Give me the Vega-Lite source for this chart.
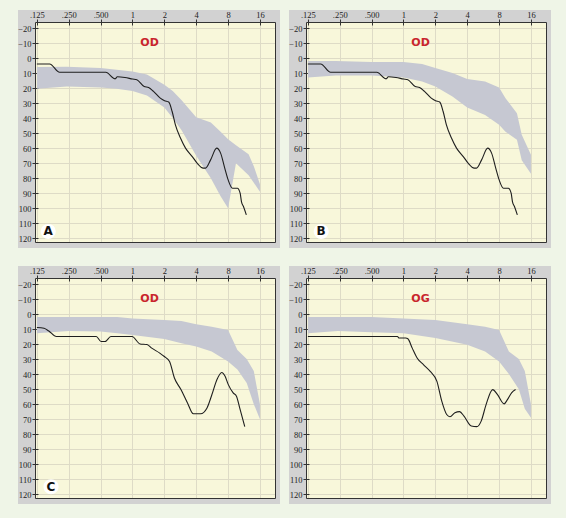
{
"$schema":"https://vega.github.io/schema/vega-lite/v6.json",
"background":"#eff5e7",
"padding":{"left":17,"top":9,"right":17,"bottom":17},
"columns":2,
"spacing":{"row":16,"column":8},
"config":{
 "view":{"fill":"#f8f7da","stroke":null},
 "axis":{"labelFont":"Liberation Sans Narrow, Liberation Serif, DejaVu Sans Condensed","labelFontSize":8.5,"labelColor":"#222222","title":null,"gridColor":"#dedbc6","gridOpacity":1,"gridWidth":1,"domainColor":"#333333","domainWidth":1,"tickColor":"#333333","labelOverlap":false,"labelFlush":false}
},
"datasets":{
 "band":[
  {"panel":"A","freq":0.125,"lo":6,"hi":20.5},{"panel":"A","freq":0.24,"lo":5.8,"hi":19},{"panel":"A","freq":0.5,"lo":6.7,"hi":19.6},{"panel":"A","freq":0.71,"lo":7.8,"hi":20.4},{"panel":"A","freq":1.0,"lo":9,"hi":22},{"panel":"A","freq":1.37,"lo":11,"hi":25},{"panel":"A","freq":2.0,"lo":17.8,"hi":33},{"panel":"A","freq":2.4,"lo":22,"hi":40},{"panel":"A","freq":2.9,"lo":28,"hi":48},{"panel":"A","freq":4.0,"lo":39.5,"hi":65},{"panel":"A","freq":5.5,"lo":43,"hi":80},{"panel":"A","freq":6.8,"lo":49,"hi":92},{"panel":"A","freq":8.0,"lo":54,"hi":100},{"panel":"A","freq":9.5,"lo":58,"hi":70},{"panel":"A","freq":12.5,"lo":64,"hi":78},{"panel":"A","freq":14,"lo":72,"hi":83},{"panel":"A","freq":16,"lo":84,"hi":89},
  {"panel":"B","freq":0.125,"lo":2,"hi":13},{"panel":"B","freq":0.23,"lo":2,"hi":11.6},{"panel":"B","freq":0.5,"lo":2.7,"hi":11.6},{"panel":"B","freq":1.0,"lo":2.7,"hi":13},{"panel":"B","freq":1.5,"lo":4,"hi":15.6},{"panel":"B","freq":2.0,"lo":6.7,"hi":19},{"panel":"B","freq":2.9,"lo":10,"hi":25.6},{"panel":"B","freq":4.0,"lo":14,"hi":33},{"panel":"B","freq":5.9,"lo":15.6,"hi":38},{"panel":"B","freq":8.0,"lo":19.6,"hi":44.4},{"panel":"B","freq":9.2,"lo":26.7,"hi":49},{"panel":"B","freq":11.8,"lo":36.7,"hi":54.4},{"panel":"B","freq":13.1,"lo":51,"hi":68},{"panel":"B","freq":16,"lo":64.4,"hi":77},
  {"panel":"C","freq":0.125,"lo":2,"hi":12.8},{"panel":"C","freq":0.25,"lo":2,"hi":11.3},{"panel":"C","freq":0.5,"lo":2,"hi":11.7},{"panel":"C","freq":0.72,"lo":2,"hi":12.8},{"panel":"C","freq":1.0,"lo":3,"hi":14},{"panel":"C","freq":2.0,"lo":4,"hi":16.6},{"panel":"C","freq":2.9,"lo":4.6,"hi":19.4},{"panel":"C","freq":4.0,"lo":6.8,"hi":21.6},{"panel":"C","freq":5.6,"lo":8.4,"hi":25},{"panel":"C","freq":8.0,"lo":10.6,"hi":31.6},{"panel":"C","freq":9.8,"lo":24,"hi":37},{"panel":"C","freq":12,"lo":30,"hi":46},{"panel":"C","freq":14,"lo":38,"hi":60},{"panel":"C","freq":16,"lo":60,"hi":70},
  {"panel":"D","freq":0.125,"lo":2,"hi":12.8},{"panel":"D","freq":0.24,"lo":2,"hi":11.3},{"panel":"D","freq":0.5,"lo":2,"hi":12.1},{"panel":"D","freq":1.0,"lo":3,"hi":12.8},{"panel":"D","freq":2.0,"lo":4,"hi":16},{"panel":"D","freq":4.0,"lo":6.8,"hi":20.5},{"panel":"D","freq":5.9,"lo":8.4,"hi":25},{"panel":"D","freq":8.0,"lo":10.6,"hi":31.6},{"panel":"D","freq":9.9,"lo":25,"hi":40},{"panel":"D","freq":12.3,"lo":30,"hi":50},{"panel":"D","freq":14,"lo":38,"hi":63},{"panel":"D","freq":16,"lo":60,"hi":69}
 ],
 "line":[
  {"panel":"A","freq":0.125,"db":4},{"panel":"A","freq":0.165,"db":4},{"panel":"A","freq":0.205,"db":9.5},{"panel":"A","freq":0.56,"db":9.5},{"panel":"A","freq":0.685,"db":13.8},{"panel":"A","freq":0.72,"db":12.5},{"panel":"A","freq":0.85,"db":13},{"panel":"A","freq":1.0,"db":14},{"panel":"A","freq":1.1,"db":14.5},{"panel":"A","freq":1.29,"db":19},{"panel":"A","freq":1.42,"db":19.6},{"panel":"A","freq":1.58,"db":22.2},{"panel":"A","freq":1.83,"db":26.7},{"panel":"A","freq":2.01,"db":28.4},{"panel":"A","freq":2.2,"db":29.3},{"panel":"A","freq":2.37,"db":35.6},{"panel":"A","freq":2.54,"db":44.4},{"panel":"A","freq":2.84,"db":53.3},{"panel":"A","freq":3.17,"db":60},{"panel":"A","freq":3.67,"db":65.6},{"panel":"A","freq":4.08,"db":70},{"panel":"A","freq":4.66,"db":73.3},{"panel":"A","freq":4.9,"db":73.3},{"panel":"A","freq":5.47,"db":67.8},{"panel":"A","freq":6.24,"db":60},{"panel":"A","freq":6.8,"db":63.3},{"panel":"A","freq":7.44,"db":73.3},{"panel":"A","freq":8.0,"db":81},{"panel":"A","freq":8.8,"db":86.7},{"panel":"A","freq":9.8,"db":86.7},{"panel":"A","freq":10.4,"db":90},{"panel":"A","freq":10.7,"db":95.6},{"panel":"A","freq":11.2,"db":99},{"panel":"A","freq":11.9,"db":104.4},
  {"panel":"B","freq":0.125,"db":4},{"panel":"B","freq":0.165,"db":4},{"panel":"B","freq":0.205,"db":9.5},{"panel":"B","freq":0.56,"db":9.5},{"panel":"B","freq":0.685,"db":13.8},{"panel":"B","freq":0.72,"db":12.5},{"panel":"B","freq":0.85,"db":13},{"panel":"B","freq":1.0,"db":14},{"panel":"B","freq":1.1,"db":14.5},{"panel":"B","freq":1.29,"db":19},{"panel":"B","freq":1.42,"db":19.6},{"panel":"B","freq":1.58,"db":22.2},{"panel":"B","freq":1.83,"db":26.7},{"panel":"B","freq":2.01,"db":28.4},{"panel":"B","freq":2.2,"db":29.3},{"panel":"B","freq":2.37,"db":35.6},{"panel":"B","freq":2.54,"db":44.4},{"panel":"B","freq":2.84,"db":53.3},{"panel":"B","freq":3.17,"db":60},{"panel":"B","freq":3.67,"db":65.6},{"panel":"B","freq":4.08,"db":70},{"panel":"B","freq":4.66,"db":73.3},{"panel":"B","freq":4.9,"db":73.3},{"panel":"B","freq":5.47,"db":67.8},{"panel":"B","freq":6.24,"db":60},{"panel":"B","freq":6.8,"db":63.3},{"panel":"B","freq":7.44,"db":73.3},{"panel":"B","freq":8.0,"db":81},{"panel":"B","freq":8.8,"db":86.7},{"panel":"B","freq":9.8,"db":86.7},{"panel":"B","freq":10.4,"db":90},{"panel":"B","freq":10.7,"db":95.6},{"panel":"B","freq":11.2,"db":99},{"panel":"B","freq":11.9,"db":104.4},
  {"panel":"C","freq":0.125,"db":9},{"panel":"C","freq":0.146,"db":9.5},{"panel":"C","freq":0.162,"db":11.3},{"panel":"C","freq":0.191,"db":15},{"panel":"C","freq":0.455,"db":15},{"panel":"C","freq":0.505,"db":18.3},{"panel":"C","freq":0.55,"db":18.3},{"panel":"C","freq":0.625,"db":15},{"panel":"C","freq":0.99,"db":15},{"panel":"C","freq":1.18,"db":19.9},{"panel":"C","freq":1.37,"db":20.3},{"panel":"C","freq":1.52,"db":22.7},{"panel":"C","freq":1.81,"db":26},{"panel":"C","freq":2.0,"db":28.3},{"panel":"C","freq":2.24,"db":31.6},{"panel":"C","freq":2.49,"db":42.6},{"panel":"C","freq":2.87,"db":50.3},{"panel":"C","freq":3.31,"db":59.2},{"panel":"C","freq":3.76,"db":66.4},{"panel":"C","freq":4.4,"db":66.4},{"panel":"C","freq":5.06,"db":62.5},{"panel":"C","freq":5.63,"db":53.6},{"panel":"C","freq":6.27,"db":43.7},{"panel":"C","freq":6.97,"db":38.9},{"panel":"C","freq":7.5,"db":41.5},{"panel":"C","freq":8.04,"db":47},{"panel":"C","freq":8.94,"db":52.5},{"panel":"C","freq":9.6,"db":54.7},{"panel":"C","freq":10.3,"db":62.5},{"panel":"C","freq":11.5,"db":75},
  {"panel":"D","freq":0.125,"db":15},{"panel":"D","freq":0.877,"db":15},{"panel":"D","freq":0.91,"db":16},{"panel":"D","freq":1.05,"db":16},{"panel":"D","freq":1.1,"db":16.5},{"panel":"D","freq":1.21,"db":22.7},{"panel":"D","freq":1.35,"db":29.4},{"panel":"D","freq":1.55,"db":33.8},{"panel":"D","freq":1.79,"db":38.2},{"panel":"D","freq":2.07,"db":44.8},{"panel":"D","freq":2.3,"db":58},{"panel":"D","freq":2.56,"db":66.9},{"panel":"D","freq":2.75,"db":68.4},{"panel":"D","freq":3.06,"db":65.8},{"panel":"D","freq":3.39,"db":65},{"panel":"D","freq":3.73,"db":68},{"panel":"D","freq":4.37,"db":74.6},{"panel":"D","freq":4.93,"db":75},{"panel":"D","freq":5.42,"db":71.3},{"panel":"D","freq":6.03,"db":60.3},{"panel":"D","freq":6.96,"db":50.3},{"panel":"D","freq":7.73,"db":53.6},{"panel":"D","freq":8.93,"db":59.8},{"panel":"D","freq":9.6,"db":57},{"panel":"D","freq":10.5,"db":52.5},{"panel":"D","freq":11.45,"db":50.3}
 ]
},
"concat":[
{"width":240,"height":220,"resolve":{"axis":{"x":"independent","y":"independent"}},
 "layer":[
  {"data":{"values":[{}]},"mark":{"type":"rect","color":"#d2d2d2"},"encoding":{"x":{"datum":0.0829,"type":"quantitative","scale":{"type":"log","base":2,"domain":[0.12,22.2],"nice":false},"axis":{"orient":"top","values":[0.125,0.25,0.5,1,2,4,8,16],"labelExpr":"datum.value < 1 ? replace(format(datum.value, '.3f'), '0.', '.') : format(datum.value, 'd')","grid":false,"domain":true,"ticks":true,"tickSize":3,"labelPadding":0,"zindex":1,"minExtent":0}},"x2":{"datum":24.75},"y":{"datum":-32,"type":"quantitative","scale":{"domain":[-24,122.5],"reverse":true,"nice":false,"zero":false},"axis":null},"y2":{"datum":-24}}},
  {"data":{"values":[{}]},"mark":{"type":"rect","color":"#d2d2d2"},"encoding":{"x":{"datum":0.0829,"type":"quantitative","scale":{"type":"log","base":2,"domain":[0.12,22.2],"nice":false},"axis":null},"x2":{"datum":0.12},"y":{"datum":-24,"type":"quantitative","scale":{"domain":[-24,122.5],"reverse":true,"nice":false,"zero":false},"axis":{"orient":"left","values":[-20,-10,0,10,20,30,40,50,60,70,80,90,100,110,120],"grid":false,"domain":true,"ticks":true,"tickSize":3,"labelPadding":1,"zindex":1,"minExtent":0}},"y2":{"datum":122.5}}},
  {"data":{"values":[{}]},"mark":{"type":"rect","color":"#d2d2d2"},"encoding":{"x":{"datum":0.0829,"type":"quantitative","scale":{"type":"log","base":2,"domain":[0.12,22.2],"nice":false},"axis":{"orient":"bottom","labels":false,"ticks":false,"grid":false,"domain":true,"zindex":1,"minExtent":0,"maxExtent":0}},"x2":{"datum":24.75},"y":{"datum":122.5,"type":"quantitative","scale":{"domain":[-24,122.5],"reverse":true,"nice":false,"zero":false},"axis":null},"y2":{"datum":126.5}}},
  {"data":{"values":[{}]},"mark":{"type":"rect","color":"#d2d2d2"},"encoding":{"x":{"datum":22.2,"type":"quantitative","scale":{"type":"log","base":2,"domain":[0.12,22.2],"nice":false},"axis":null},"x2":{"datum":24.75},"y":{"datum":-24,"type":"quantitative","scale":{"domain":[-24,122.5],"reverse":true,"nice":false,"zero":false},"axis":{"orient":"right","labels":false,"ticks":false,"grid":false,"domain":true,"zindex":1,"minExtent":0,"maxExtent":0}},"y2":{"datum":122.5}}},
  {"data":{"name":"band"},"transform":[{"filter":"datum.panel === 'A'"}],"mark":{"type":"area","color":"#c6c8d2","opacity":1,"orient":"vertical"},"encoding":{"x":{"field":"freq","type":"quantitative","scale":{"type":"log","base":2,"domain":[0.12,22.2],"nice":false},"axis":{"orient":"top","values":[0.125,0.25,0.5,1,2,4,8,16],"grid":true,"labels":false,"ticks":true,"tickSize":-3,"domain":false,"zindex":0,"minExtent":0,"maxExtent":0}},"y":{"field":"lo","type":"quantitative","scale":{"domain":[-24,122.5],"reverse":true,"nice":false,"zero":false},"axis":{"orient":"left","values":[-20,-10,0,10,20,30,40,50,60,70,80,90,100,110,120],"grid":true,"labels":false,"ticks":true,"tickSize":-3,"domain":false,"zindex":0,"minExtent":0,"maxExtent":0}},"y2":{"field":"hi"}}},
  {"data":{"name":"line"},"transform":[{"filter":"datum.panel === 'A'"}],"mark":{"type":"line","color":"#1e1e1e","strokeWidth":1.1,"interpolate":"monotone"},"encoding":{"x":{"field":"freq","type":"quantitative","scale":{"type":"log","base":2,"domain":[0.12,22.2],"nice":false},"axis":null},"y":{"field":"db","type":"quantitative","scale":{"domain":[-24,122.5],"reverse":true,"nice":false,"zero":false},"axis":null}}},
  {"data":{"values":[{"ear":"OD"}]},"mark":{"type":"text","font":"DejaVu Sans","fontSize":11,"fontWeight":"bold","color":"#c9252c"},"encoding":{"x":{"datum":1.45,"type":"quantitative","scale":{"type":"log","base":2,"domain":[0.12,22.2],"nice":false},"axis":null},"y":{"datum":-10,"type":"quantitative","scale":{"domain":[-24,122.5],"reverse":true,"nice":false,"zero":false},"axis":null},"text":{"field":"ear"}}},
  {"data":{"values":[{"letter":"A"}]},"mark":{"type":"circle","size":230,"color":"#ffffff","opacity":1},"encoding":{"x":{"datum":0.16,"type":"quantitative","scale":{"type":"log","base":2,"domain":[0.12,22.2],"nice":false},"axis":null},"y":{"datum":115.5,"type":"quantitative","scale":{"domain":[-24,122.5],"reverse":true,"nice":false,"zero":false},"axis":null}}},
  {"data":{"values":[{"letter":"A"}]},"mark":{"type":"text","font":"DejaVu Sans","fontSize":12,"fontWeight":"bold","color":"#111111"},"encoding":{"x":{"datum":0.16,"type":"quantitative","scale":{"type":"log","base":2,"domain":[0.12,22.2],"nice":false},"axis":null},"y":{"datum":115.5,"type":"quantitative","scale":{"domain":[-24,122.5],"reverse":true,"nice":false,"zero":false},"axis":null},"text":{"field":"letter"}}}
 ]},
{"width":240,"height":220,"resolve":{"axis":{"x":"independent","y":"independent"}},
 "layer":[
  {"data":{"values":[{}]},"mark":{"type":"rect","color":"#d2d2d2"},"encoding":{"x":{"datum":0.0829,"type":"quantitative","scale":{"type":"log","base":2,"domain":[0.12,22.2],"nice":false},"axis":{"orient":"top","values":[0.125,0.25,0.5,1,2,4,8,16],"labelExpr":"datum.value < 1 ? replace(format(datum.value, '.3f'), '0.', '.') : format(datum.value, 'd')","grid":false,"domain":true,"ticks":true,"tickSize":3,"labelPadding":0,"zindex":1,"minExtent":0}},"x2":{"datum":24.75},"y":{"datum":-32,"type":"quantitative","scale":{"domain":[-24,122.5],"reverse":true,"nice":false,"zero":false},"axis":null},"y2":{"datum":-24}}},
  {"data":{"values":[{}]},"mark":{"type":"rect","color":"#d2d2d2"},"encoding":{"x":{"datum":0.0829,"type":"quantitative","scale":{"type":"log","base":2,"domain":[0.12,22.2],"nice":false},"axis":null},"x2":{"datum":0.12},"y":{"datum":-24,"type":"quantitative","scale":{"domain":[-24,122.5],"reverse":true,"nice":false,"zero":false},"axis":{"orient":"left","values":[-20,-10,0,10,20,30,40,50,60,70,80,90,100,110,120],"grid":false,"domain":true,"ticks":true,"tickSize":3,"labelPadding":1,"zindex":1,"minExtent":0}},"y2":{"datum":122.5}}},
  {"data":{"values":[{}]},"mark":{"type":"rect","color":"#d2d2d2"},"encoding":{"x":{"datum":0.0829,"type":"quantitative","scale":{"type":"log","base":2,"domain":[0.12,22.2],"nice":false},"axis":{"orient":"bottom","labels":false,"ticks":false,"grid":false,"domain":true,"zindex":1,"minExtent":0,"maxExtent":0}},"x2":{"datum":24.75},"y":{"datum":122.5,"type":"quantitative","scale":{"domain":[-24,122.5],"reverse":true,"nice":false,"zero":false},"axis":null},"y2":{"datum":126.5}}},
  {"data":{"values":[{}]},"mark":{"type":"rect","color":"#d2d2d2"},"encoding":{"x":{"datum":22.2,"type":"quantitative","scale":{"type":"log","base":2,"domain":[0.12,22.2],"nice":false},"axis":null},"x2":{"datum":24.75},"y":{"datum":-24,"type":"quantitative","scale":{"domain":[-24,122.5],"reverse":true,"nice":false,"zero":false},"axis":{"orient":"right","labels":false,"ticks":false,"grid":false,"domain":true,"zindex":1,"minExtent":0,"maxExtent":0}},"y2":{"datum":122.5}}},
  {"data":{"name":"band"},"transform":[{"filter":"datum.panel === 'B'"}],"mark":{"type":"area","color":"#c6c8d2","opacity":1,"orient":"vertical"},"encoding":{"x":{"field":"freq","type":"quantitative","scale":{"type":"log","base":2,"domain":[0.12,22.2],"nice":false},"axis":{"orient":"top","values":[0.125,0.25,0.5,1,2,4,8,16],"grid":true,"labels":false,"ticks":true,"tickSize":-3,"domain":false,"zindex":0,"minExtent":0,"maxExtent":0}},"y":{"field":"lo","type":"quantitative","scale":{"domain":[-24,122.5],"reverse":true,"nice":false,"zero":false},"axis":{"orient":"left","values":[-20,-10,0,10,20,30,40,50,60,70,80,90,100,110,120],"grid":true,"labels":false,"ticks":true,"tickSize":-3,"domain":false,"zindex":0,"minExtent":0,"maxExtent":0}},"y2":{"field":"hi"}}},
  {"data":{"name":"line"},"transform":[{"filter":"datum.panel === 'B'"}],"mark":{"type":"line","color":"#1e1e1e","strokeWidth":1.1,"interpolate":"monotone"},"encoding":{"x":{"field":"freq","type":"quantitative","scale":{"type":"log","base":2,"domain":[0.12,22.2],"nice":false},"axis":null},"y":{"field":"db","type":"quantitative","scale":{"domain":[-24,122.5],"reverse":true,"nice":false,"zero":false},"axis":null}}},
  {"data":{"values":[{"ear":"OD"}]},"mark":{"type":"text","font":"DejaVu Sans","fontSize":11,"fontWeight":"bold","color":"#c9252c"},"encoding":{"x":{"datum":1.45,"type":"quantitative","scale":{"type":"log","base":2,"domain":[0.12,22.2],"nice":false},"axis":null},"y":{"datum":-10,"type":"quantitative","scale":{"domain":[-24,122.5],"reverse":true,"nice":false,"zero":false},"axis":null},"text":{"field":"ear"}}},
  {"data":{"values":[{"letter":"B"}]},"mark":{"type":"circle","size":230,"color":"#ffffff","opacity":1},"encoding":{"x":{"datum":0.167,"type":"quantitative","scale":{"type":"log","base":2,"domain":[0.12,22.2],"nice":false},"axis":null},"y":{"datum":115.5,"type":"quantitative","scale":{"domain":[-24,122.5],"reverse":true,"nice":false,"zero":false},"axis":null}}},
  {"data":{"values":[{"letter":"B"}]},"mark":{"type":"text","font":"DejaVu Sans","fontSize":12,"fontWeight":"bold","color":"#111111"},"encoding":{"x":{"datum":0.167,"type":"quantitative","scale":{"type":"log","base":2,"domain":[0.12,22.2],"nice":false},"axis":null},"y":{"datum":115.5,"type":"quantitative","scale":{"domain":[-24,122.5],"reverse":true,"nice":false,"zero":false},"axis":null},"text":{"field":"letter"}}}
 ]},
{"width":240,"height":220,"resolve":{"axis":{"x":"independent","y":"independent"}},
 "layer":[
  {"data":{"values":[{}]},"mark":{"type":"rect","color":"#d2d2d2"},"encoding":{"x":{"datum":0.0829,"type":"quantitative","scale":{"type":"log","base":2,"domain":[0.12,22.2],"nice":false},"axis":{"orient":"top","values":[0.125,0.25,0.5,1,2,4,8,16],"labelExpr":"datum.value < 1 ? replace(format(datum.value, '.3f'), '0.', '.') : format(datum.value, 'd')","grid":false,"domain":true,"ticks":true,"tickSize":3,"labelPadding":0,"zindex":1,"minExtent":0}},"x2":{"datum":24.75},"y":{"datum":-32,"type":"quantitative","scale":{"domain":[-24,122.5],"reverse":true,"nice":false,"zero":false},"axis":null},"y2":{"datum":-24}}},
  {"data":{"values":[{}]},"mark":{"type":"rect","color":"#d2d2d2"},"encoding":{"x":{"datum":0.0829,"type":"quantitative","scale":{"type":"log","base":2,"domain":[0.12,22.2],"nice":false},"axis":null},"x2":{"datum":0.12},"y":{"datum":-24,"type":"quantitative","scale":{"domain":[-24,122.5],"reverse":true,"nice":false,"zero":false},"axis":{"orient":"left","values":[-20,-10,0,10,20,30,40,50,60,70,80,90,100,110,120],"grid":false,"domain":true,"ticks":true,"tickSize":3,"labelPadding":1,"zindex":1,"minExtent":0}},"y2":{"datum":122.5}}},
  {"data":{"values":[{}]},"mark":{"type":"rect","color":"#d2d2d2"},"encoding":{"x":{"datum":0.0829,"type":"quantitative","scale":{"type":"log","base":2,"domain":[0.12,22.2],"nice":false},"axis":{"orient":"bottom","labels":false,"ticks":false,"grid":false,"domain":true,"zindex":1,"minExtent":0,"maxExtent":0}},"x2":{"datum":24.75},"y":{"datum":122.5,"type":"quantitative","scale":{"domain":[-24,122.5],"reverse":true,"nice":false,"zero":false},"axis":null},"y2":{"datum":126.5}}},
  {"data":{"values":[{}]},"mark":{"type":"rect","color":"#d2d2d2"},"encoding":{"x":{"datum":22.2,"type":"quantitative","scale":{"type":"log","base":2,"domain":[0.12,22.2],"nice":false},"axis":null},"x2":{"datum":24.75},"y":{"datum":-24,"type":"quantitative","scale":{"domain":[-24,122.5],"reverse":true,"nice":false,"zero":false},"axis":{"orient":"right","labels":false,"ticks":false,"grid":false,"domain":true,"zindex":1,"minExtent":0,"maxExtent":0}},"y2":{"datum":122.5}}},
  {"data":{"name":"band"},"transform":[{"filter":"datum.panel === 'C'"}],"mark":{"type":"area","color":"#c6c8d2","opacity":1,"orient":"vertical"},"encoding":{"x":{"field":"freq","type":"quantitative","scale":{"type":"log","base":2,"domain":[0.12,22.2],"nice":false},"axis":{"orient":"top","values":[0.125,0.25,0.5,1,2,4,8,16],"grid":true,"labels":false,"ticks":true,"tickSize":-3,"domain":false,"zindex":0,"minExtent":0,"maxExtent":0}},"y":{"field":"lo","type":"quantitative","scale":{"domain":[-24,122.5],"reverse":true,"nice":false,"zero":false},"axis":{"orient":"left","values":[-20,-10,0,10,20,30,40,50,60,70,80,90,100,110,120],"grid":true,"labels":false,"ticks":true,"tickSize":-3,"domain":false,"zindex":0,"minExtent":0,"maxExtent":0}},"y2":{"field":"hi"}}},
  {"data":{"name":"line"},"transform":[{"filter":"datum.panel === 'C'"}],"mark":{"type":"line","color":"#1e1e1e","strokeWidth":1.1,"interpolate":"monotone"},"encoding":{"x":{"field":"freq","type":"quantitative","scale":{"type":"log","base":2,"domain":[0.12,22.2],"nice":false},"axis":null},"y":{"field":"db","type":"quantitative","scale":{"domain":[-24,122.5],"reverse":true,"nice":false,"zero":false},"axis":null}}},
  {"data":{"values":[{"ear":"OD"}]},"mark":{"type":"text","font":"DejaVu Sans","fontSize":11,"fontWeight":"bold","color":"#c9252c"},"encoding":{"x":{"datum":1.45,"type":"quantitative","scale":{"type":"log","base":2,"domain":[0.12,22.2],"nice":false},"axis":null},"y":{"datum":-10,"type":"quantitative","scale":{"domain":[-24,122.5],"reverse":true,"nice":false,"zero":false},"axis":null},"text":{"field":"ear"}}},
  {"data":{"values":[{"letter":"C"}]},"mark":{"type":"circle","size":230,"color":"#ffffff","opacity":1},"encoding":{"x":{"datum":0.17,"type":"quantitative","scale":{"type":"log","base":2,"domain":[0.12,22.2],"nice":false},"axis":null},"y":{"datum":115,"type":"quantitative","scale":{"domain":[-24,122.5],"reverse":true,"nice":false,"zero":false},"axis":null}}},
  {"data":{"values":[{"letter":"C"}]},"mark":{"type":"text","font":"DejaVu Sans","fontSize":12,"fontWeight":"bold","color":"#111111"},"encoding":{"x":{"datum":0.17,"type":"quantitative","scale":{"type":"log","base":2,"domain":[0.12,22.2],"nice":false},"axis":null},"y":{"datum":115,"type":"quantitative","scale":{"domain":[-24,122.5],"reverse":true,"nice":false,"zero":false},"axis":null},"text":{"field":"letter"}}}
 ]},
{"width":240,"height":220,"resolve":{"axis":{"x":"independent","y":"independent"}},
 "layer":[
  {"data":{"values":[{}]},"mark":{"type":"rect","color":"#d2d2d2"},"encoding":{"x":{"datum":0.0829,"type":"quantitative","scale":{"type":"log","base":2,"domain":[0.12,22.2],"nice":false},"axis":{"orient":"top","values":[0.125,0.25,0.5,1,2,4,8,16],"labelExpr":"datum.value < 1 ? replace(format(datum.value, '.3f'), '0.', '.') : format(datum.value, 'd')","grid":false,"domain":true,"ticks":true,"tickSize":3,"labelPadding":0,"zindex":1,"minExtent":0}},"x2":{"datum":24.75},"y":{"datum":-32,"type":"quantitative","scale":{"domain":[-24,122.5],"reverse":true,"nice":false,"zero":false},"axis":null},"y2":{"datum":-24}}},
  {"data":{"values":[{}]},"mark":{"type":"rect","color":"#d2d2d2"},"encoding":{"x":{"datum":0.0829,"type":"quantitative","scale":{"type":"log","base":2,"domain":[0.12,22.2],"nice":false},"axis":null},"x2":{"datum":0.12},"y":{"datum":-24,"type":"quantitative","scale":{"domain":[-24,122.5],"reverse":true,"nice":false,"zero":false},"axis":{"orient":"left","values":[-20,-10,0,10,20,30,40,50,60,70,80,90,100,110,120],"grid":false,"domain":true,"ticks":true,"tickSize":3,"labelPadding":1,"zindex":1,"minExtent":0}},"y2":{"datum":122.5}}},
  {"data":{"values":[{}]},"mark":{"type":"rect","color":"#d2d2d2"},"encoding":{"x":{"datum":0.0829,"type":"quantitative","scale":{"type":"log","base":2,"domain":[0.12,22.2],"nice":false},"axis":{"orient":"bottom","labels":false,"ticks":false,"grid":false,"domain":true,"zindex":1,"minExtent":0,"maxExtent":0}},"x2":{"datum":24.75},"y":{"datum":122.5,"type":"quantitative","scale":{"domain":[-24,122.5],"reverse":true,"nice":false,"zero":false},"axis":null},"y2":{"datum":126.5}}},
  {"data":{"values":[{}]},"mark":{"type":"rect","color":"#d2d2d2"},"encoding":{"x":{"datum":22.2,"type":"quantitative","scale":{"type":"log","base":2,"domain":[0.12,22.2],"nice":false},"axis":null},"x2":{"datum":24.75},"y":{"datum":-24,"type":"quantitative","scale":{"domain":[-24,122.5],"reverse":true,"nice":false,"zero":false},"axis":{"orient":"right","labels":false,"ticks":false,"grid":false,"domain":true,"zindex":1,"minExtent":0,"maxExtent":0}},"y2":{"datum":122.5}}},
  {"data":{"name":"band"},"transform":[{"filter":"datum.panel === 'D'"}],"mark":{"type":"area","color":"#c6c8d2","opacity":1,"orient":"vertical"},"encoding":{"x":{"field":"freq","type":"quantitative","scale":{"type":"log","base":2,"domain":[0.12,22.2],"nice":false},"axis":{"orient":"top","values":[0.125,0.25,0.5,1,2,4,8,16],"grid":true,"labels":false,"ticks":true,"tickSize":-3,"domain":false,"zindex":0,"minExtent":0,"maxExtent":0}},"y":{"field":"lo","type":"quantitative","scale":{"domain":[-24,122.5],"reverse":true,"nice":false,"zero":false},"axis":{"orient":"left","values":[-20,-10,0,10,20,30,40,50,60,70,80,90,100,110,120],"grid":true,"labels":false,"ticks":true,"tickSize":-3,"domain":false,"zindex":0,"minExtent":0,"maxExtent":0}},"y2":{"field":"hi"}}},
  {"data":{"name":"line"},"transform":[{"filter":"datum.panel === 'D'"}],"mark":{"type":"line","color":"#1e1e1e","strokeWidth":1.1,"interpolate":"monotone"},"encoding":{"x":{"field":"freq","type":"quantitative","scale":{"type":"log","base":2,"domain":[0.12,22.2],"nice":false},"axis":null},"y":{"field":"db","type":"quantitative","scale":{"domain":[-24,122.5],"reverse":true,"nice":false,"zero":false},"axis":null}}},
  {"data":{"values":[{"ear":"OG"}]},"mark":{"type":"text","font":"DejaVu Sans","fontSize":11,"fontWeight":"bold","color":"#c9252c"},"encoding":{"x":{"datum":1.45,"type":"quantitative","scale":{"type":"log","base":2,"domain":[0.12,22.2],"nice":false},"axis":null},"y":{"datum":-10,"type":"quantitative","scale":{"domain":[-24,122.5],"reverse":true,"nice":false,"zero":false},"axis":null},"text":{"field":"ear"}}}
 ]}
]
}
